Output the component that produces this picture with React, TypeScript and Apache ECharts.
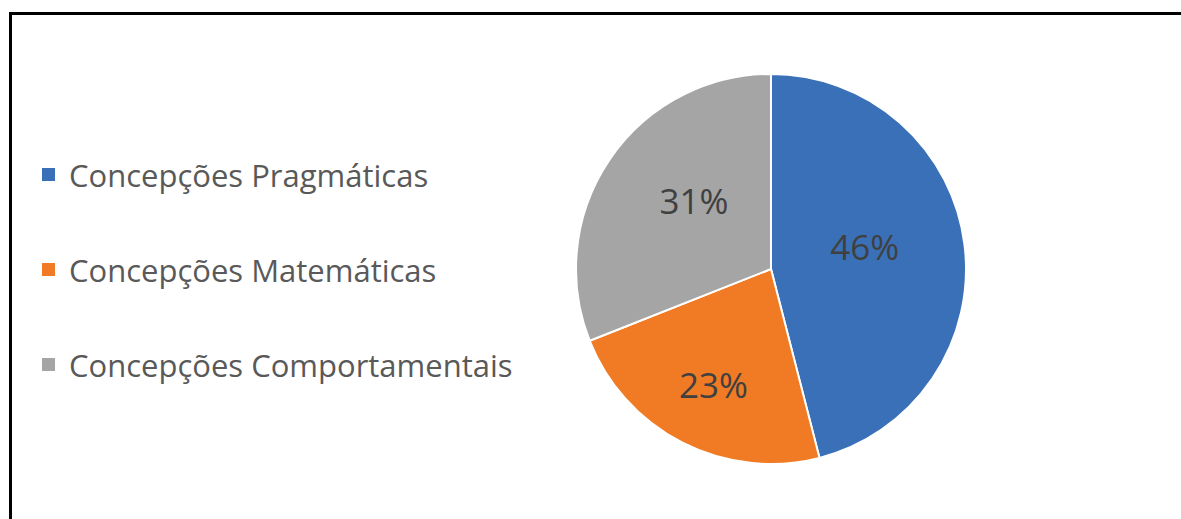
import React, { useEffect, useRef } from "react";
import * as echarts from "echarts";

const categories = [
  "Concepções Pragmáticas",
  "Concepções Matemáticas",
  "Concepções Comportamentais",
];
const values = [46, 23, 31];
const colors = ["#3A70B8", "#F17B25", "#A5A5A5"];

export default function App() {
  const ref = useRef<HTMLDivElement>(null);
  useEffect(() => {
    if (!ref.current) return;
    const chart = echarts.init(ref.current, undefined, { renderer: "svg" });
    const labelShift = [
      [-6, -10],
      [-12, 26],
      [6, -12],
    ];
    chart.setOption({
      animation: false,
      backgroundColor: "#ffffff",
      graphic: [
        {
          type: "rect",
          shape: { x: 10.5, y: 13.5, width: 1250, height: 600 },
          style: { fill: "none", stroke: "#000000", lineWidth: 3 },
          silent: true,
        },
      ],
      legend: {
        orient: "vertical",
        left: 35,
        top: 154,
        itemWidth: 15,
        itemHeight: 15,
        itemGap: 64,
        icon: "rect",
        data: categories,
        textStyle: {
          fontFamily: "Open Sans",
          fontSize: 31,
          color: "#595959",
          lineHeight: 30,
          padding: [0, 0, 0, 8],
        },
      },
      series: [
        {
          type: "pie",
          center: [771, 269],
          radius: 195,
          startAngle: 90,
          clockwise: true,
          itemStyle: { borderColor: "#ffffff", borderWidth: 2 },
          label: {
            show: true,
            position: "inside",
            formatter: "{c}%",
            fontFamily: "Open Sans",
            fontSize: 35,
            color: "#404040",
          },
          labelLayout: (p: any) => ({
            dx: labelShift[p.dataIndex][0],
            dy: labelShift[p.dataIndex][1],
          }),
          labelLine: { show: false },
          emphasis: { disabled: true },
          data: categories.map((name, i) => ({
            name,
            value: values[i],
            itemStyle: { color: colors[i] },
          })),
        },
      ],
    });
    return () => chart.dispose();
  }, []);
  return (
    <div
      ref={ref}
      style={{ position: "fixed", left: 0, top: 0, width: 1181, height: 519 }}
    />
  );
}
